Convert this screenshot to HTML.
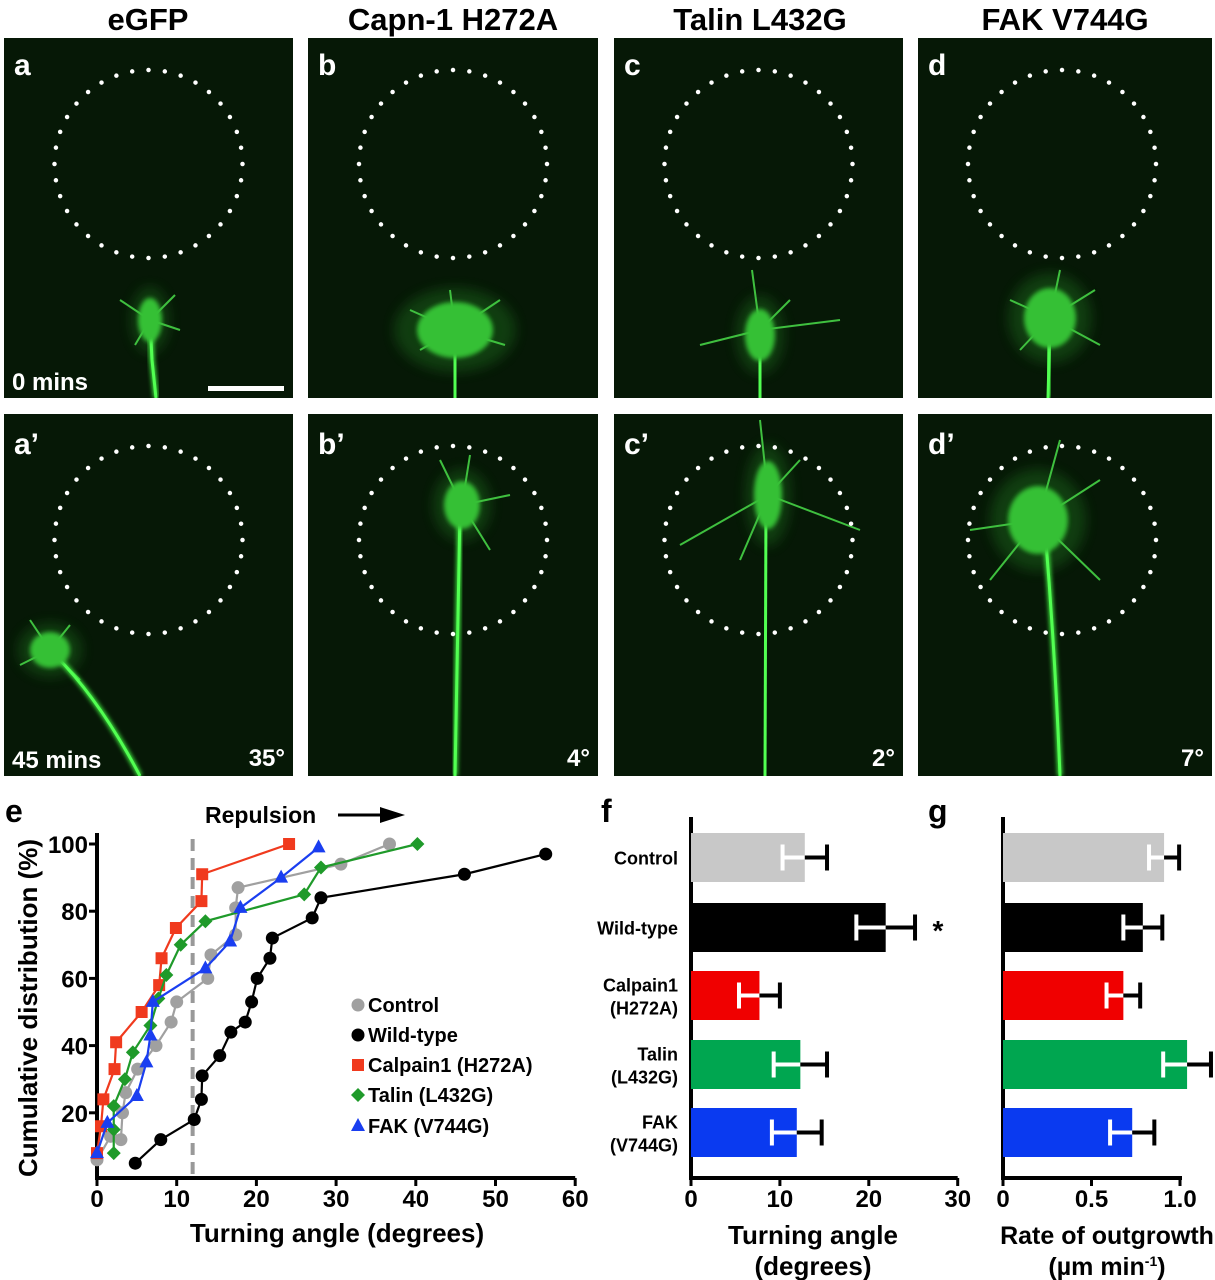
<!DOCTYPE html>
<html><head><meta charset="utf-8">
<style>
html,body{margin:0;padding:0;background:#fff;}
svg{display:block;font-family:"Liberation Sans",Arial,sans-serif;font-weight:bold;}
</style></head>
<body>
<svg id="fig" width="1215" height="1280" viewBox="0 0 1215 1280" xmlns="http://www.w3.org/2000/svg">
<defs>
<filter id="glow" x="-50%" y="-50%" width="200%" height="200%"><feGaussianBlur stdDeviation="2.2"/></filter>
<filter id="soft" x="-50%" y="-50%" width="200%" height="200%"><feGaussianBlur stdDeviation="6"/></filter>
</defs>
<g id="micro"></g>
<g id="chartE"></g>
<g id="chartF"></g>
<g id="chartG"></g>
</svg>
<script>
// ---------- Panel e data ----------
const seriesNames = ["Control","Wild-type","Calpain1 (H272A)","Talin (L432G)","FAK (V744G)"];
const ctrlX = [0,1.7,3.0,3.2,3.6,5.1,7.4,9.3,10,13.9,14.3,17.4,17.4,17.7,30.6,36.7];
const ctrlY = [6,13,12,20,26,33,40,47,53,60,67,73,81,87,94,100];
const wtX = [4.8,8,12.2,13.1,13.2,15.4,16.8,18.6,19.4,20.1,21.7,22,27,28.1,46.1,56.3];
const wtY = [5,12,18,24,31,37,44,47,53,60,66,72,78,84,91,97];
const capX = [0,0.5,0.8,2.2,2.4,5.6,7.8,8.1,9.9,13.1,13.2,24.1];
const capY = [8,16,24,33,41,50,58,66,75,83,91,100];
const talX = [2.1,2.1,2.1,3.5,4.5,6.7,7.7,8.7,10.5,13.6,26,28.1,40.2];
const talY = [8,15,22,30,38,46,54,61,70,77,85,93,100];
const fakX = [0,1.3,5,6.2,6.7,7,13.6,16.7,18,23.1,27.8];
const fakY = [8,17,25,35,43,53,63,71,81,90,99];
const eXTicks = [0,10,20,30,40,50,60];
const eYTicks = [20,40,60,80,100];
const thresholdAngle = 12;

// ---------- Panel f/g data ----------
const barCats = [["Control"],["Wild-type"],["Calpain1","(H272A)"],["Talin","(L432G)"],["FAK","(V744G)"]];
const turnMean = [12.8,21.9,7.7,12.3,11.9];
const turnErr = [2.5,3.3,2.3,3.0,2.8];
const rateMean = [0.91,0.79,0.68,1.04,0.73];
const rateErr = [0.085,0.11,0.095,0.135,0.125];
const fTicks = [0,10,20,30];
const gTicks = ["0","0.5","1.0"];
const gTickVals = [0,0.5,1.0];

const NS="http://www.w3.org/2000/svg";
function mk(tag, attrs, parent){const e=document.createElementNS(NS,tag);for(const k in attrs)e.setAttribute(k,attrs[k]);parent.appendChild(e);return e;}
function txt(parent,x,y,s,size,fill,anchor,name){const t=mk('text',{x:x,y:y,'font-size':size,fill:fill||'#000','text-anchor':anchor||'start'},parent);t.textContent=s;


return t;}

// ---------- Micrographs ----------
const micro=document.getElementById('micro');
const colX=[4,308,614,918], colW=[289,290,289,294];
const rowY=[38,414], rowH=[360,362];
const titles=["eGFP","Capn-1 H272A","Talin L432G","FAK V744G"];
const letters=["a","b","c","d"];
const degs=["35°","4°","2°","7°"];
const titleX=[148,453,760,1065];
titles.forEach((t,i)=>txt(micro,titleX[i],30,t,31,'#000','middle','column-title-'+letters[i]));
const neurons=[
 [[150,320,12,22,"M150 320 L152 360 L156 398"],[455,330,38,28,"M455 335 L455 398"],[760,335,15,26,"M760 335 L760 398"],[1050,318,26,30,"M1050 320 L1048 398"]],
 [[50,650,20,18,"M55 655 Q100 700 140 776"],[462,505,18,24,"M460 510 L455 776"],[768,495,14,34,"M766 500 L765 776"],[1038,520,30,34,"M1045 530 Q1055 650 1060 776"]]
];
const filo=[
 [["M150 320 L120 300","M150 320 L175 295","M150 320 L180 330","M150 320 L135 345"],["M455 330 L410 310","M455 330 L500 300","M455 330 L505 345","M455 330 L420 350","M455 330 L450 290"],["M760 330 L700 345","M760 330 L840 320","M760 330 L752 270","M760 330 L790 300"],["M1050 318 L1010 300","M1050 318 L1095 290","M1050 318 L1100 345","M1050 318 L1020 350","M1050 318 L1060 270"]],
 [["M50 650 L30 620","M50 650 L70 625","M50 650 L20 665","M50 650 L80 680"],["M462 505 L440 460","M462 505 L510 495","M462 505 L490 550","M462 505 L470 455"],["M768 495 L680 545","M768 495 L860 530","M768 495 L760 420","M768 495 L800 460","M768 495 L740 560"],["M1038 520 L970 530","M1038 520 L1100 480","M1038 520 L1060 440","M1038 520 L990 580","M1038 520 L1100 580"]]
];
for(let r=0;r<2;r++){for(let c=0;c<4;c++){
  const g=mk('g',{},micro);
  
  
  const x=colX[c],y=rowY[r],w=colW[c],h=rowH[r];
  mk('rect',{x:x,y:y,width:w,height:h,fill:'#061806'},g);
  const cp='clip'+r+c;
  const cl=mk('clipPath',{id:cp},g);mk('rect',{x:x,y:y,width:w,height:h},cl);
  const inner=mk('g',{'clip-path':'url(#'+cp+')'},g);
  const n=neurons[r][c];
  mk('ellipse',{cx:n[0],cy:n[1],rx:n[2]*1.6,ry:n[3]*1.5,fill:'#1f6a1f',opacity:0.45,filter:'url(#soft)'},inner);
  filo[r][c].forEach(p=>mk('path',{d:p,stroke:'#3fc03f',"stroke-width":2,fill:'none'},inner));
  mk('path',{d:n[4],stroke:'#3ee83e',"stroke-width":5,fill:'none',filter:'url(#glow)'},inner);
  mk('path',{d:n[4],stroke:'#52ff52',"stroke-width":3,fill:'none'},inner);
  mk('ellipse',{cx:n[0],cy:n[1],rx:n[2],ry:n[3],fill:'#34c034',filter:'url(#glow)'},inner);
  const ccx=x+w/2+(c===3?-3:0), ccy=r?540:164;
  const circ=mk('circle',{cx:ccx,cy:ccy,r:94,fill:'none',stroke:'#fff','stroke-width':4.5,'stroke-linecap':'round','stroke-dasharray':'0 16.4'},g);
  
  
  txt(g,x+10,y+(r?40:37),letters[c]+(r?'’':''),30,'#fff','start','panel-label-'+letters[c]);
  if(r===1) txt(g,x+w-8,y+h-10,degs[c],24,'#fff','end','turn-angle-'+letters[c]);
}}
txt(micro,12,390,"0 mins",24,'#fff','start','time-label-0');
txt(micro,12,768,"45 mins",24,'#fff','start','time-label-45');
const sb=mk('rect',{x:208,y:386,width:76,height:5,fill:'#fff'},micro);



// ---------- Panel e ----------
const E=document.getElementById('chartE');
const AXY=1178;
const ex=v=>97+v*7.97, ey=v=>1180-v*3.36;
txt(E,5,822,"e",32,'#000','start','panel-label-e');
txt(E,205,823,"Repulsion",23,'#000','start','repulsion-label');
mk('line',{x1:338,y1:815,x2:385,y2:815,stroke:'#000','stroke-width':3},E);
mk('polygon',{points:'380,807 405,815 380,823',fill:'#000'},E);
mk('line',{x1:ex(0),y1:833,x2:ex(0),y2:AXY+2,stroke:'#000','stroke-width':4},E);
mk('line',{x1:ex(0)-2,y1:AXY,x2:ex(60),y2:AXY,stroke:'#000','stroke-width':4},E);
eXTicks.forEach(v=>{mk('line',{x1:ex(v),y1:AXY,x2:ex(v),y2:AXY+8,stroke:'#000','stroke-width':3},E);
 txt(E,ex(v),AXY+29,String(v),24,'#000','middle','x-tick-'+v);});
eYTicks.forEach(v=>{mk('line',{x1:ex(0)-8,y1:ey(v),x2:ex(0),y2:ey(v),stroke:'#000','stroke-width':3},E);
 txt(E,ex(0)-9,ey(v)+9,String(v),24,'#000','end','y-tick-'+v);});
const dl=mk('line',{x1:ex(thresholdAngle),y1:ey(100)-5,x2:ex(thresholdAngle),y2:AXY-2,stroke:'#999','stroke-width':4,'stroke-dasharray':'12 7'},E);


const yt=txt(E,0,0,"Cumulative distribution (%)",26,'#000','middle','y-axis-title');
yt.setAttribute('transform','translate(37,1008) rotate(-90)');
txt(E,337,1242,"Turning angle (degrees)",26,'#000','middle','x-axis-title');
const eSeries=[[ctrlX,ctrlY,'#a0a0a0','circle'],[wtX,wtY,'#000','circle'],[capX,capY,'#f03a1e','square'],[talX,talY,'#1f9a2a','diamond'],[fakX,fakY,'#1a3ef0','triangle']];
function marker(parent,shape,x,y,col){
  if(shape==='circle') return mk('circle',{cx:x,cy:y,r:6.5,fill:col},parent);
  if(shape==='square') return mk('rect',{x:x-6,y:y-6,width:12,height:12,fill:col},parent);
  if(shape==='triangle') return mk('polygon',{points:`${x},${y-8} ${x+7},${y+5} ${x-7},${y+5}`,fill:col},parent);
  return mk('polygon',{points:`${x},${y-7} ${x+7},${y} ${x},${y+7} ${x-7},${y}`,fill:col},parent);
}
eSeries.forEach((s,i)=>{
  const g=mk('g',{},E);
  
  
  const pts=s[0].map((v,j)=>ex(v)+','+ey(s[1][j])).join(' ');
  mk('polyline',{points:pts,fill:'none',stroke:s[2],'stroke-width':2.2},g);
  s[0].forEach((v,j)=>{const m=marker(g,s[3],ex(v),ey(s[1][j]),s[2]);
    
    });
});
const legY=[1005,1035,1065,1095,1126];
eSeries.forEach((s,i)=>{
  const g=mk('g',{},E);
  
  
  marker(g,s[3],358,legY[i],s[2]);
  txt(g,368,legY[i]+7,seriesNames[i],20,'#000','start','legend-text');
});

// ---------- Panels f and g ----------
const barCols=['#c8c8c8','#000','#f00000','#00a650','#0a3af0'];
const barTop=[833,903,971,1040,1108], barH=49;
function barChart(G,x0,scale,means,errs,axisEnd){
  mk('line',{x1:x0,y1:817,x2:x0,y2:AXY+2,stroke:'#000','stroke-width':4},G);
  mk('line',{x1:x0-2,y1:AXY,x2:axisEnd,y2:AXY,stroke:'#000','stroke-width':4},G);
  means.forEach((m,i)=>{
    const g=mk('g',{},G);
    
    
    const xe=x0+m*scale, cy=barTop[i]+barH/2, lo=x0+(m-errs[i])*scale, hi=x0+(m+errs[i])*scale;
    mk('rect',{x:x0,y:barTop[i],width:m*scale,height:barH,fill:barCols[i]},g);
    mk('line',{x1:lo,y1:cy,x2:xe,y2:cy,stroke:'#fff','stroke-width':4},g);
    mk('line',{x1:lo,y1:cy-13,x2:lo,y2:cy+13,stroke:'#fff','stroke-width':4},g);
    mk('line',{x1:xe,y1:cy,x2:hi,y2:cy,stroke:'#000','stroke-width':4},g);
    mk('line',{x1:hi,y1:cy-13,x2:hi,y2:cy+13,stroke:'#000','stroke-width':4},g);
  });
}
const F=document.getElementById('chartF');
const fScale=8.89, fx0=691;
txt(F,601,822,"f",32,'#000','start','panel-label-f');
barCats.forEach((c,i)=>{
  const cy=barTop[i]+barH/2;
  if(c.length===1) txt(F,678,cy+7,c[0],18,'#000','end','category-label');
  else {txt(F,678,cy-4,c[0],18,'#000','end','category-label');txt(F,678,cy+19,c[1],18,'#000','end','category-label');}
});
barChart(F,fx0,fScale,turnMean,turnErr,fx0+30*fScale);
fTicks.forEach(v=>{mk('line',{x1:fx0+v*fScale,y1:AXY,x2:fx0+v*fScale,y2:AXY+8,stroke:'#000','stroke-width':3},F);
 txt(F,fx0+v*fScale,AXY+29,String(v),24,'#000','middle','f-x-tick');});
txt(F,938,940,"*",28,'#000','middle','significance-asterisk');
txt(F,813,1244,"Turning angle",26,'#000','middle','f-x-title');
txt(F,813,1275,"(degrees)",26,'#000','middle','f-x-title-units');

const G=document.getElementById('chartG');
const gScale=177, gx0=1003;
txt(G,928,822,"g",32,'#000','start','panel-label-g');
barChart(G,gx0,gScale,rateMean,rateErr,gx0+1.0*gScale+2);
gTickVals.forEach((v,i)=>{mk('line',{x1:gx0+v*gScale,y1:AXY,x2:gx0+v*gScale,y2:AXY+8,stroke:'#000','stroke-width':3},G);
 txt(G,gx0+v*gScale,AXY+29,gTicks[i],24,'#000','middle','g-x-tick');});
txt(G,1107,1244,"Rate of outgrowth",25,'#000','middle','g-x-title');
const u=txt(G,1107,1275,"(µm min",25,'#000','middle','g-x-title-units');
const sup=mk('tspan',{'font-size':14,dy:-9},u);sup.textContent="-1";
const cl2=mk('tspan',{dy:9},u);cl2.textContent=")";
</script>
</body></html>
